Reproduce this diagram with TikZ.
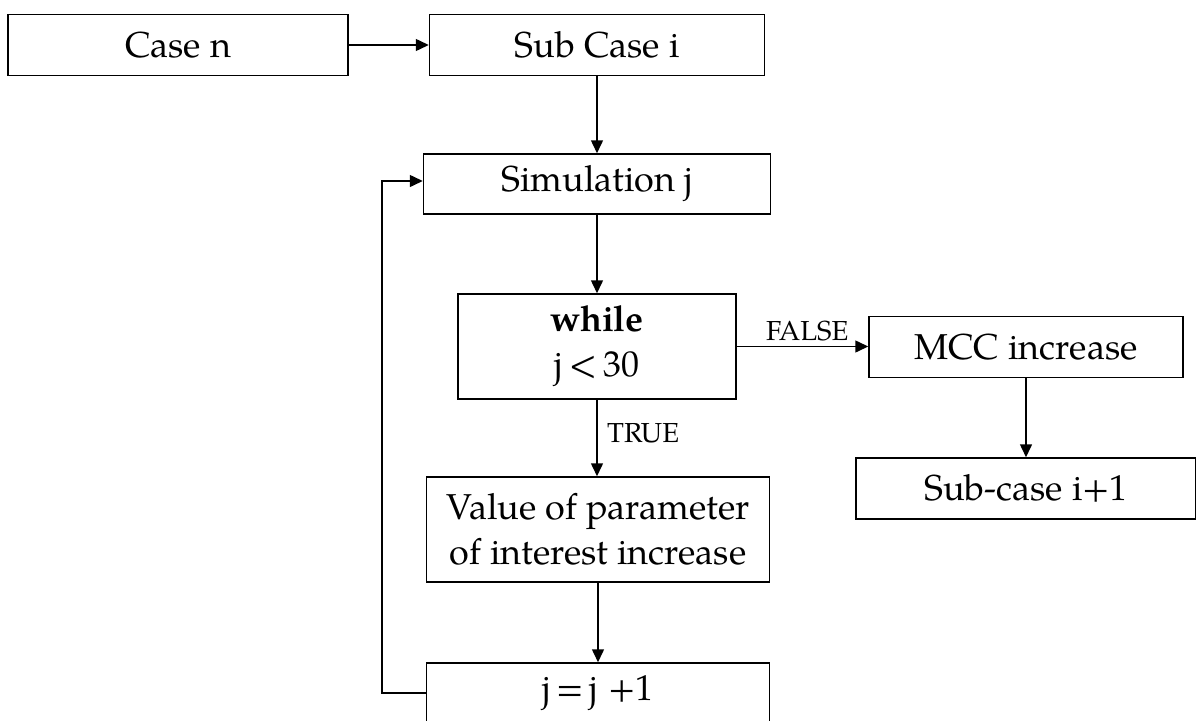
\documentclass[tikz,border=0pt]{standalone}
\usepackage{fontspec}
\setmainfont{TeX Gyre Pagella}
\usetikzlibrary{arrows.meta}
\begin{document}
\begin{tikzpicture}[x=1pt,y=1pt,
  box/.style={draw=black, line width=1.5pt, rectangle, inner sep=0pt, align=center,
    font=\fontsize{36}{45}\selectfont},
  flow/.style={draw=black, line width=1.5pt, -{Triangle[length=13pt,width=12pt]}},
  tag/.style={font=\fontsize{27.5}{32}\selectfont, inner sep=0pt}]
  \useasboundingbox (0,0) rectangle (1196,-720);
  \clip (0,0) rectangle (1196,-720);

  % process boxes
  \node[box, minimum width=340pt, minimum height=61pt] (casen) at (178,-45) {Case n};
  \node[box, minimum width=335pt, minimum height=61pt] (subcase) at (597,-45) {Sub Case i};
  \node[box, minimum width=347pt, minimum height=60pt] (sim) at (597,-184) {Simulation j};
  \node[box, minimum width=278pt, minimum height=105pt] (loop) at (597,-346.5) {\textbf{while}\\ j\,<\,30};
  \node[box, minimum width=314pt, minimum height=61pt] (mcc) at (1026,-347) {MCC increase};
  \node[box, minimum width=340pt, minimum height=61pt] (nextcase) at (1026,-488.5) {Sub-case i+1};
  \node[box, minimum width=343pt, minimum height=105pt] (value) at (598,-529.5) {Value of parameter\\ of interest increase};
  \node[box, minimum width=343pt, minimum height=60pt] (incr) at (598,-693) {j\,=\,j\;+1};

  % connectors
  \draw[flow] (casen.east) -- (subcase.west);
  \draw[flow] (subcase.south) -- (sim.north);
  \draw[flow] (sim.south) -- (loop.north);
  \draw[flow] (loop.east) -- (loop.east -| mcc.west);
  \draw[flow] (mcc.south) -- (nextcase.north);
  \draw[flow] (loop.south) -- (loop.south |- value.north);
  \draw[flow] (value.south) -- (incr.north);
  \coordinate (back) at (382,-693);
  \draw[flow] (incr.west) -- (back) |- ([yshift=3pt]sim.west);

  % branch labels
  \node[tag, anchor=base west] (false) at (766,-340) {FALSE};
  \node[tag, anchor=west] (true) at (607,-433) {TRUE};
\end{tikzpicture}
\end{document}
